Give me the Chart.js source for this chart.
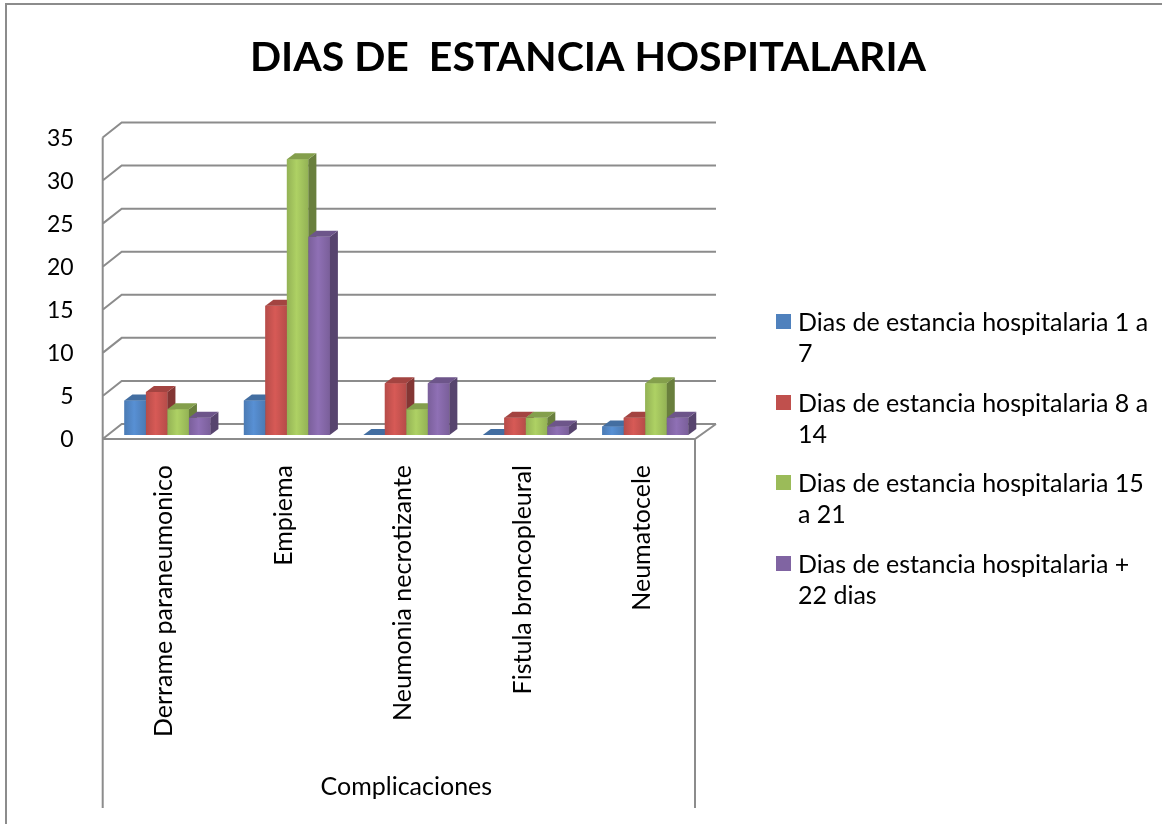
<!DOCTYPE html>
<html>
<head>
<meta charset="utf-8">
<script src="https://cdn.jsdelivr.net/npm/chart.js@4.4.0/dist/chart.umd.min.js"></script>
<style>
    body { margin: 0; background: #fff; }
    #wrap { position: relative; width: 1162px; height: 824px; overflow: hidden; }
    #legend { position: absolute; left: 776px; top: 306px; font-family: Lato, sans-serif; font-size: 25px; line-height: 31px; color: #000; }
    .item { display: flex; align-items: flex-start; margin-bottom: 18.5px; }
    .box { width: 15px; height: 15px; margin-top: 8px; margin-right: 7px; flex: none; }
    .txt { width: 355px; }
</style>
</head>
<body>
<div id="wrap">
    <canvas id="chart" width="1162" height="824"></canvas>
    <div id="legend"></div>
</div>
<script>
const categories = ["Derrame paraneumonico", "Empiema", "Neumonia necrotizante", "Fistula broncopleural", "Neumatocele"];
const seriesNames = [
    "Dias de estancia hospitalaria 1 a 7",
    "Dias de estancia hospitalaria 8 a 14",
    "Dias de estancia hospitalaria 15 a 21",
    "Dias de estancia hospitalaria + 22 dias"
];
const dias1a7 = [4, 4, 0, 0, 1];
const dias8a14 = [5, 15, 6, 2, 2];
const dias15a21 = [3, 32, 3, 2, 6];
const dias22mas = [2, 23, 6, 1, 2];
const yMax = 35;
const yStep = 5;
const chartTitle = "DIAS DE  ESTANCIA HOSPITALARIA";
const axisTitle = "Complicaciones";

const colors = ["#4F81BD", "#C0504D", "#9BBB59", "#8064A2"];
const FONT = "Lato, sans-serif";
const DX = 8, DY = 6;

function shade(hex, f) {
    const n = parseInt(hex.slice(1), 16);
    const r = Math.min(255, Math.round(((n >> 16) & 255) * f));
    const g = Math.min(255, Math.round(((n >> 8) & 255) * f));
    const b = Math.min(255, Math.round((n & 255) * f));
    return "rgb(" + r + "," + g + "," + b + ")";
}

// walls, gridlines, category box and title
const walls = {
    id: "walls",
    beforeDatasetsDraw(chart) {
        const ctx = chart.ctx, a = chart.chartArea, y = chart.scales.y;
        const fl = a.left - 5, fr = a.right - 10, bl = a.left + 14, br = a.right + 11;
        const yf = v => y.getPixelForValue(v) + 4;
        const yb = v => y.getPixelForValue(v) - 11;
        ctx.save();
        ctx.strokeStyle = "#8c8c8c";
        ctx.lineWidth = 2;
        ctx.beginPath();
        y.ticks.forEach(t => {
            ctx.moveTo(fl, yf(t.value));
            ctx.lineTo(bl, yb(t.value));
            ctx.lineTo(br, yb(t.value));
        });
        ctx.moveTo(fl, yf(yMax));
        ctx.lineTo(fl, yf(0));
        ctx.lineTo(fr, yf(0));
        ctx.lineTo(br, yb(0));
        ctx.moveTo(fl, yf(0));
        ctx.lineTo(fl, 808);
        ctx.moveTo(fr, yf(0));
        ctx.lineTo(fr, 808);
        ctx.stroke();
        ctx.restore();
    },
    afterDraw(chart) {
        const ctx = chart.ctx;
        ctx.save();
        ctx.strokeStyle = "#8c8c8c";
        ctx.lineWidth = 2;
        ctx.strokeRect(6, 4, 1250, 900);
        ctx.fillStyle = "#000";
        ctx.font = "bold 41px " + FONT;
        ctx.textAlign = "center";
        ctx.textBaseline = "middle";
        ctx.fillText(chartTitle, 588, 58);
        ctx.restore();
    }
};

// 3d faces drawn over the bars, series by series so the next front hides the side
const blocks = {
    id: "blocks",
    afterDatasetsDraw(chart) {
        const ctx = chart.ctx;
        ctx.save();
        for (let i = 0; i < categories.length; i++) {
            chart.data.datasets.forEach((ds, d) => {
                const el = chart.getDatasetMeta(d).data[i];
                const p = el.getProps(["x", "y", "base", "width"], true);
                const l = p.x - p.width / 2, r = p.x + p.width / 2;
                const c = colors[d];
                const g = ctx.createLinearGradient(l, 0, r, 0);
                g.addColorStop(0, shade(c, 0.95));
                g.addColorStop(0.45, shade(c, 1.12));
                g.addColorStop(1, shade(c, 0.95));
                ctx.fillStyle = g;
                ctx.fillRect(l, p.y, p.width, p.base - p.y);
                ctx.fillStyle = shade(c, 0.68);
                ctx.beginPath();
                ctx.moveTo(r, p.y);
                ctx.lineTo(r + DX, p.y - DY);
                ctx.lineTo(r + DX, p.base - DY);
                ctx.lineTo(r, p.base);
                ctx.closePath();
                ctx.fill();
                ctx.fillStyle = shade(c, 0.85);
                ctx.beginPath();
                ctx.moveTo(l, p.y);
                ctx.lineTo(l + DX, p.y - DY);
                ctx.lineTo(r + DX, p.y - DY);
                ctx.lineTo(r, p.y);
                ctx.closePath();
                ctx.fill();
            });
        }
        ctx.restore();
    }
};

const series = [dias1a7, dias8a14, dias15a21, dias22mas];

const chart = new Chart(document.getElementById("chart"), {
    type: "bar",
    data: {
        labels: categories,
        datasets: series.map((s, i) => ({
            label: seriesNames[i],
            data: s,
            backgroundColor: colors[i],
            borderWidth: 0
        }))
    },
    options: {
        responsive: false,
        animation: false,
        layout: { padding: { left: 0, top: 133.5, right: 457, bottom: 0 } },
        datasets: { bar: { categoryPercentage: 0.72, barPercentage: 1 } },
        plugins: { legend: { display: false }, tooltip: { enabled: false } },
        scales: {
            x: {
                grid: { display: false },
                border: { display: false },
                ticks: {
                    color: "#000",
                    font: { family: FONT, size: 25 },
                    minRotation: 90,
                    maxRotation: 90,
                    autoSkip: false,
                    padding: 22,
                    labelOffset: -3
                },
                title: {
                    display: true,
                    text: axisTitle,
                    color: "#000",
                    font: { family: FONT, size: 25 },
                    padding: { top: 0, bottom: 22 }
                },
                afterFit(scale) { scale.height = 389; }
            },
            y: {
                min: 0,
                max: yMax,
                grid: { display: false },
                border: { display: false },
                ticks: {
                    stepSize: yStep,
                    color: "#000",
                    font: { family: FONT, size: 23 },
                    padding: 26,
                    labelOffset: 5
                },
                afterFit(scale) { scale.width = 107.7; }
            }
        }
    },
    plugins: [walls, blocks]
});

const legend = document.getElementById("legend");
chart.data.datasets.forEach(ds => {
    const item = document.createElement("div");
    item.className = "item";
    item.innerHTML = '<span class="box" style="background:' + ds.backgroundColor + '"></span><span class="txt">' + ds.label + "</span>";
    legend.appendChild(item);
});
</script>
</body>
</html>
